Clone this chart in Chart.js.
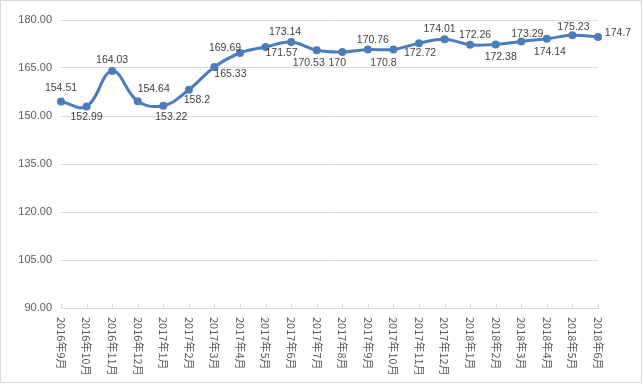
<!DOCTYPE html>
<html>
<head>
<meta charset="utf-8">
<script src="https://cdn.jsdelivr.net/npm/chart.js@4/dist/chart.umd.min.js"></script>
<style>
  html, body { margin: 0; padding: 0; background: #fff; }
  #wrap { width: 643px; height: 384px; }
</style>
</head>
<body>
<div id="wrap"><canvas id="priceChart" width="643" height="384"></canvas></div>
<script>
const months = ['2016年9月', '2016年10月', '2016年11月', '2016年12月', '2017年1月', '2017年2月',
    '2017年3月', '2017年4月', '2017年5月', '2017年6月', '2017年7月', '2017年8月', '2017年9月',
    '2017年10月', '2017年11月', '2017年12月', '2018年1月', '2018年2月', '2018年3月', '2018年4月',
    '2018年5月', '2018年6月'];
const prices = [154.51, 152.99, 164.03, 154.64, 153.22, 158.2, 165.33, 169.69, 171.57, 173.14,
    170.53, 170, 170.76, 170.8, 172.72, 174.01, 172.26, 172.38, 173.29, 174.14, 175.23, 174.7];
const yTicks = [90, 105, 120, 135, 150, 165, 180];

// where each value label sits relative to its point (dx, dy)
const labelOffsets = [
    [0, -13], [0, 11], [0, -11], [16, -12], [8, 11], [8, 10], [16, 7], [-15, -5],
    [16, 6], [-6, -10], [-8, 13], [-5, 11], [5, -9], [-10, 14], [1, 10], [-5, -10],
    [5, -10], [5, 13], [6, -7], [3, 13], [1, -8], [20, -4]
];

const lineColor = '#4a7ebb';
const numFont = '"Liberation Sans", Arial, sans-serif';

const framePlugin = {
    id: 'frame',
    beforeDraw(chart) {
        const c = chart.ctx;
        c.save();
        c.fillStyle = '#ffffff';
        c.fillRect(0, 0, chart.width, chart.height);
        c.strokeStyle = '#d9d9d9';
        c.lineWidth = 1;
        c.strokeRect(0.5, 0.5, chart.width - 2, chart.height - 2);
        c.restore();
    },
    afterDraw(chart) {
        const c = chart.ctx;
        const xs = chart.scales.x;
        const bottom = chart.chartArea.bottom;
        c.save();
        // small tick marks pointing up into the plot
        c.strokeStyle = '#d9d9d9';
        c.lineWidth = 1;
        months.forEach((m, i) => {
            const x = Math.round(xs.getPixelForValue(i)) + 0.5;
            c.beginPath();
            c.moveTo(x, bottom - 4);
            c.lineTo(x, bottom);
            c.stroke();
        });
        // category labels, read top to bottom
        c.fillStyle = '#595959';
        c.font = '11px "Noto Sans CJK SC", sans-serif';
        c.textAlign = 'left';
        c.textBaseline = 'middle';
        months.forEach((m, i) => {
            c.save();
            c.translate(xs.getPixelForValue(i), bottom + 9);
            c.rotate(Math.PI / 2);
            c.fillText(m, 0, 0);
            c.restore();
        });
        c.restore();
    },
    afterDatasetsDraw(chart) {
        const c = chart.ctx;
        const meta = chart.getDatasetMeta(0);
        c.save();
        c.fillStyle = '#404040';
        c.font = '10.5px ' + numFont;
        c.textAlign = 'center';
        c.textBaseline = 'middle';
        meta.data.forEach((pt, i) => {
            const off = labelOffsets[i] || [0, -12];
            c.fillText(String(prices[i]), pt.x + off[0], pt.y + off[1]);
        });
        c.restore();
    }
};

const ctx = document.getElementById('priceChart').getContext('2d');
const priceChart = new Chart(ctx, {
    type: 'line',
    data: {
        labels: months,
        datasets: [{
            data: prices,
            borderColor: lineColor,
            backgroundColor: lineColor,
            borderWidth: 3,
            pointRadius: 4,
            pointBorderWidth: 0,
            pointBackgroundColor: lineColor,
            tension: 0.4,
            fill: false
        }]
    },
    options: {
        responsive: false,
        animation: false,
        events: [],
        layout: { padding: { top: 20, right: 45, left: 0, bottom: 0 } },
        plugins: {
            legend: { display: false },
            tooltip: { enabled: false }
        },
        scales: {
            x: {
                offset: false,
                grid: { display: false },
                border: { color: '#d9d9d9', width: 1 },
                ticks: { display: false },
                afterFit(scale) { scale.height = 76; }
            },
            y: {
                min: 90,
                max: 180,
                afterBuildTicks(scale) {
                    scale.ticks = yTicks.map(v => ({ value: v }));
                },
                grid: { color: '#d9d9d9', drawTicks: false },
                border: { display: false },
                ticks: {
                    padding: 9,
                    color: '#595959',
                    font: { family: numFont, size: 11 },
                    callback: v => Number(v).toFixed(2)
                },
                afterFit(scale) { scale.width = 61; }
            }
        }
    },
    plugins: [framePlugin]
});
</script>
</body>
</html>
